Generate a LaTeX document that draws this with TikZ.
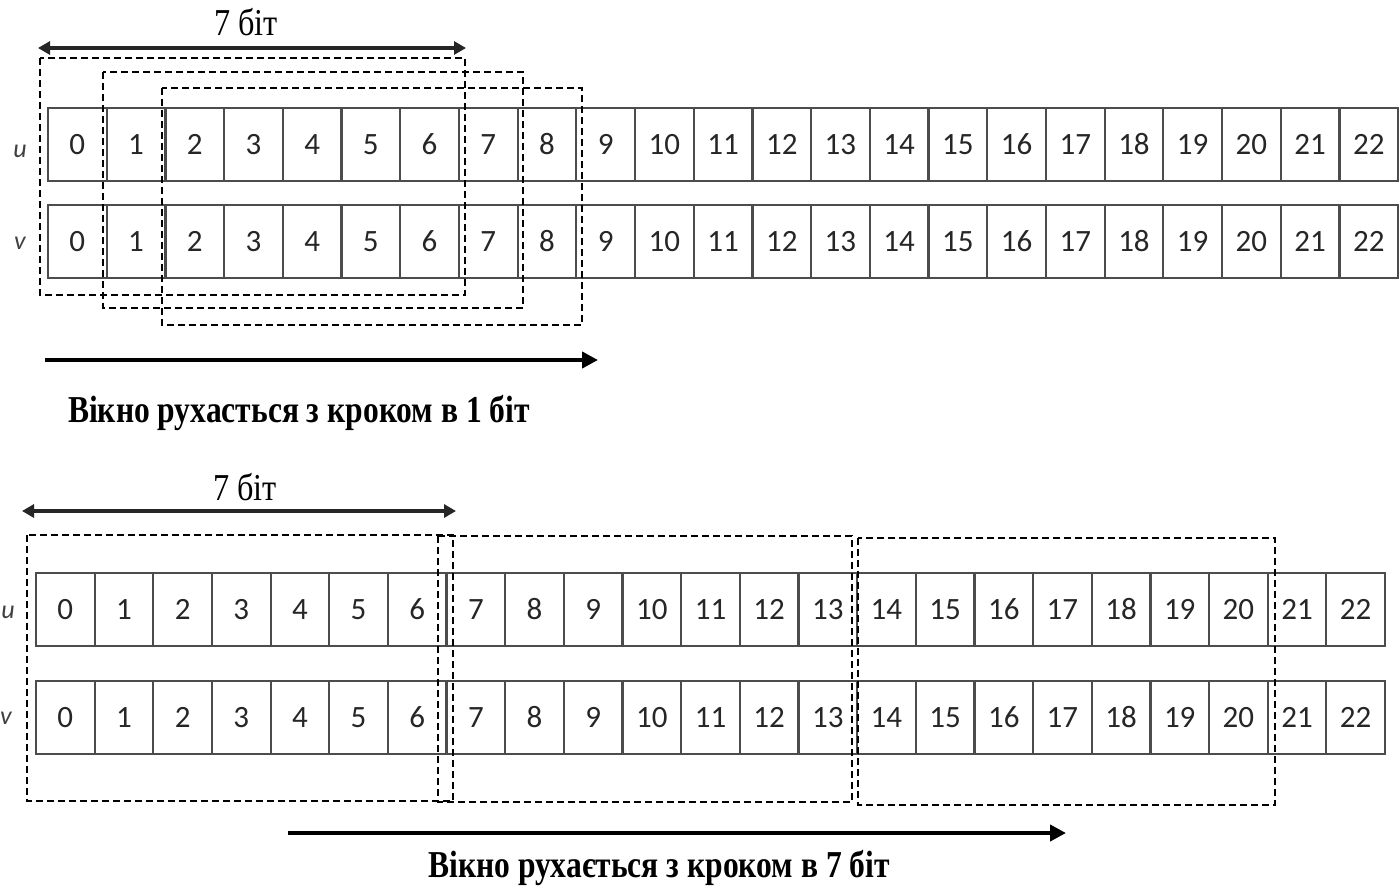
\documentclass[tikz,border=0pt]{standalone}
\usepackage{fontspec}
\setmainfont{Liberation Serif}
\newfontfamily\cellfont{Carlito}
\usetikzlibrary{arrows.meta}
\begin{document}
\begin{tikzpicture}[x=1pt,y=-1pt,
  cell/.style={draw=black!70, line width=2.2pt, minimum width=58.7pt, minimum height=73pt,
    inner sep=0pt, outer sep=0pt, anchor=north west,
    font=\cellfont\fontsize{31}{31}\selectfont, text=black!85},
  rowlab/.style={font=\cellfont\itshape\fontsize{26}{26}\selectfont, text=black!75, inner sep=0pt},
  win/.style={draw=black, line width=2.8pt, dash pattern=on 7pt off 4pt},
  dimarrow/.style={line width=3.2pt, draw=black!85, {Triangle[length=12pt,width=13pt]}-{Triangle[length=12pt,width=13pt]}},
  movearrow/.style={line width=4.5pt, draw=black, -{Triangle[length=16pt,width=16pt]}},
  bitlab/.style={font=\fontsize{38}{38}\selectfont, inner sep=0pt},
  caption/.style={font=\bfseries\fontsize{38}{38}\selectfont, inner sep=0pt}
]
\useasboundingbox (0,0) rectangle (1400,892);
\fill[white] (0,0) rectangle (1400,892);

% ---------- top section ----------
\foreach \i in {0,...,22} {
  \node[cell] (tu\i) at (48+\i*58.7,108) {\i};
  \node[cell] (tv\i) at (48+\i*58.7,205) {\i};
}
\node[rowlab] (tul) at (20,151) {u};
\node[rowlab] (tvl) at (20,243) {v};

\draw[win] (40,58) rectangle (465,295);
\draw[win] (103,72) rectangle (523,308);
\draw[win] (162,88) rectangle (582,325);

\coordinate (ta1) at (38,48);
\coordinate (ta2) at (466,48);
\draw[dimarrow] (ta1) -- (ta2);
\node[bitlab] (t7) at (246,22) {\scalebox{0.85}[1]{7 біт}};

\coordinate (tm1) at (45,360);
\coordinate (tm2) at (598,360);
\draw[movearrow] (tm1) -- (tm2);
\node[caption] (tcap) at (299,413) {\scalebox{0.83}[1]{Вікно рухасться з кроком в 1 біт}};

% ---------- bottom section ----------
\foreach \i in {0,...,22} {
  \node[cell] (bu\i) at (36+\i*58.65,573) {\i};
  \node[cell] (bv\i) at (36+\i*58.65,681) {\i};
}
\node[rowlab] (bul) at (8,612) {u};
\node[rowlab] (bvl) at (6,718) {v};

\draw[win] (27,535) rectangle (453,801);
\draw[win] (438,536) rectangle (852,802);
\draw[win] (858,538) rectangle (1275,805);

\coordinate (ba1) at (22,511);
\coordinate (ba2) at (456,511);
\draw[dimarrow] (ba1) -- (ba2);
\node[bitlab] (b7) at (245,487) {\scalebox{0.85}[1]{7 біт}};

\coordinate (bm1) at (288,833);
\coordinate (bm2) at (1066,833);
\draw[movearrow] (bm1) -- (bm2);
\node[caption] (bcap) at (659,868) {\scalebox{0.83}[1]{Вікно рухається з кроком в 7 біт}};
\end{tikzpicture}
\end{document}
